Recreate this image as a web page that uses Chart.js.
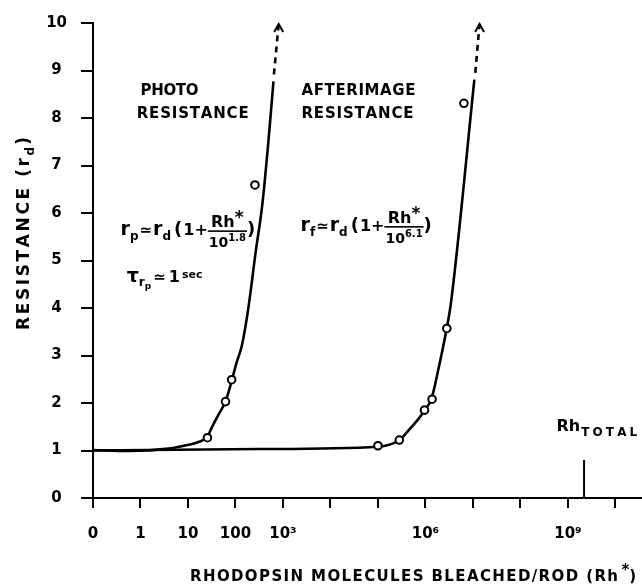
<!DOCTYPE html>
<html>
<head>
<meta charset="utf-8">
<script src="https://cdn.jsdelivr.net/npm/chart.js@4.4.1/dist/chart.umd.min.js"></script>
<style>
  html, body { margin: 0; padding: 0; background: #fff; }
</style>
</head>
<body>
<canvas id="rhoChart" width="642" height="588"></canvas>
<script>
// x is log10(Rh*) — the "0" molecules tick sits one decade left of 1
const xTickValues = [-1, 0, 1, 2, 3, 6, 9];
const xTickLabels = ["0", "1", "10", "100", "10³", "10⁶", "10⁹"];
const yTickLabels = ["0", "1", "2", "3", "4", "5", "6", "7", "8", "9", "10"];

// photo resistance
const photoCurveX = [-1, -0.25, 0.59, 1.01, 1.22, 1.41, 1.49, 1.64, 1.79, 1.92, 2.02, 2.13, 2.21, 2.29, 2.42, 2.57, 2.69, 2.80];
const photoCurveY = [1.01, 0.99, 1.04, 1.12, 1.18, 1.29, 1.46, 1.75, 2.03, 2.46, 2.84, 3.19, 3.61, 4.13, 5.14, 6.22, 7.47, 8.77];
const photoDashX = [2.81, 2.91];
const photoDashY = [8.92, 9.98];
const photoPointsX = [1.41, 1.79, 1.92, 2.41];
const photoPointsY = [1.27, 2.03, 2.49, 6.59];

// afterimage resistance
const afterCurveX = [-1, 2.5, 5.0, 5.45, 5.64, 5.85, 5.98, 6.13, 6.27, 6.45, 6.54, 7.03];
const afterCurveY = [1.0, 1.03, 1.08, 1.22, 1.42, 1.66, 1.84, 2.10, 2.70, 3.58, 4.13, 8.81];
const afterDashX = [7.05, 7.14];
const afterDashY = [8.95, 9.98];
const afterPointsX = [5.0, 5.45, 5.98, 6.14, 6.45, 6.81];
const afterPointsY = [1.10, 1.22, 1.85, 2.08, 3.57, 8.31];

// total rhodopsin marker
const rhTotalX = [9.34, 9.34];
const rhTotalY = [0, 0.8];

const FONT = "DejaVu Sans";
const toXY = (xs, ys) => xs.map((x, i) => ({ x: x, y: ys[i] }));

function pointSet(xs, ys) {
  return {
    data: toXY(xs, ys),
    showLine: false,
    pointRadius: 3.8,
    pointBorderWidth: 2,
    pointBackgroundColor: "#fff",
    pointBorderColor: "#000"
  };
}
function lineSet(xs, ys, dash) {
  return {
    data: toXY(xs, ys),
    showLine: true,
    borderColor: "#000",
    borderWidth: 2.6,
    borderDash: dash || [],
    pointRadius: 0,
    cubicInterpolationMode: "monotone",
    clip: false
  };
}

// draw text char by char, spreading it to a given width
function spaced(ctx, text, x, y, font, width) {
  ctx.font = font;
  let w0 = 0;
  for (const c of text) w0 += ctx.measureText(c).width;
  const gap = text.length > 1 ? (width - w0) / (text.length - 1) : 0;
  for (const c of text) {
    ctx.fillText(c, x, y);
    x += ctx.measureText(c).width + gap;
  }
  return x;
}
function run(ctx, x, y, parts) {
  parts.forEach(p => {
    ctx.font = p.f;
    ctx.fillText(p.t, x, y + (p.dy || 0));
    x += ctx.measureText(p.t).width + (p.gap || 0);
  });
  return x;
}
function fraction(ctx, x, base, denExp) {
  ctx.font = "bold 16px " + FONT;
  const wn = ctx.measureText("Rh").width + 9;
  ctx.font = "bold 14px " + FONT;
  const wd = ctx.measureText("10").width;
  ctx.font = "bold 10px " + FONT;
  const we = ctx.measureText(denExp).width;
  const w = Math.max(wn, wd + we) + 2;
  run(ctx, x + (w - wn) / 2, base - 8, [
    { t: "Rh", f: "bold 16px " + FONT },
    { t: "*", f: "bold 17px " + FONT, dy: -4 }
  ]);
  run(ctx, x + (w - wd - we) / 2, base + 12, [
    { t: "10", f: "bold 14px " + FONT },
    { t: denExp, f: "bold 10px " + FONT, dy: -6 }
  ]);
  ctx.fillRect(x, base - 5, w, 1.6);
  return x + w;
}
function formula(ctx, x, base, sub, denExp) {
  const big = "bold 19px " + FONT, small = "bold 12px " + FONT;
  x = run(ctx, x, base, [
    { t: "r", f: big },
    { t: sub, f: small, dy: 5, gap: 1 },
    { t: "≃", f: "bold 15px " + FONT, gap: 1 },
    { t: "r", f: big },
    { t: "d", f: small, dy: 5, gap: 3 },
    { t: "(", f: "bold 18px " + FONT, gap: 1 },
    { t: "1", f: "bold 16px " + FONT },
    { t: "+", f: "bold 16px " + FONT }
  ]);
  x = fraction(ctx, x, base, denExp);
  run(ctx, x, base, [{ t: ")", f: "bold 18px " + FONT }]);
}
function chevron(ctx, px, py) {
  ctx.beginPath();
  ctx.moveTo(px - 4.5, py + 8);
  ctx.lineTo(px, py);
  ctx.lineTo(px + 4.5, py + 8);
  ctx.stroke();
}

const textPlugin = {
  id: "figureText",
  afterDraw(chart) {
    const { ctx, scales: { x, y } } = chart;
    const X = v => x.getPixelForValue(v), Y = v => y.getPixelForValue(v);
    ctx.save();
    ctx.fillStyle = "#000";
    ctx.strokeStyle = "#000";
    ctx.lineWidth = 2;
    ctx.textBaseline = "alphabetic";
    ctx.textAlign = "left";

    const lab = "bold 15px " + FONT;
    spaced(ctx, "PHOTO", X(0), Y(8.48), lab, 58);
    spaced(ctx, "RESISTANCE", X(-0.08), Y(8.0), lab, 112);
    spaced(ctx, "AFTERIMAGE", X(3.39), Y(8.48), lab, 114);
    spaced(ctx, "RESISTANCE", X(3.39), Y(8.0), lab, 112);

    formula(ctx, X(-0.42), Y(5.53), "p", "1.8");
    formula(ctx, X(3.37), Y(5.62), "f", "6.1");

    run(ctx, X(-0.29), Y(4.55), [
      { t: "τ", f: "bold 19px " + FONT },
      { t: "r", f: "bold 12px " + FONT, dy: 4 },
      { t: "p", f: "bold 9px " + FONT, dy: 7, gap: 2 },
      { t: "≃", f: "bold 15px " + FONT, gap: 3 },
      { t: "1", f: "bold 16px " + FONT, gap: 2 },
      { t: "sec", f: "bold 11px " + FONT, dy: -4 }
    ]);

    const rx = run(ctx, X(8.76), Y(1.42), [{ t: "Rh", f: "bold 16px " + FONT, gap: 1 }]);
    spaced(ctx, "TOTAL", rx, Y(1.42) + 5, "bold 12px " + FONT, 56);

    chevron(ctx, X(photoDashX[1]), Y(photoDashY[1]));
    chevron(ctx, X(afterDashX[1]), Y(afterDashY[1]));

    // x axis title
    const tx = spaced(ctx, "RHODOPSIN MOLECULES BLEACHED/ROD (Rh", 190, 581, "bold 15px " + FONT, 428);
    run(ctx, tx + 2, 581, [
      { t: "*", f: "bold 15px " + FONT, dy: -6 },
      { t: ")", f: "bold 15px " + FONT }
    ]);

    // y axis title
    ctx.translate(29, 330);
    ctx.rotate(-Math.PI / 2);
    const ty = spaced(ctx, "RESISTANCE (r", 0, 0, "bold 17px " + FONT, 172);
    run(ctx, ty, 0, [
      { t: "d", f: "bold 12px " + FONT, dy: 5, gap: 2 },
      { t: ")", f: "bold 17px " + FONT }
    ]);
    ctx.restore();
  }
};

new Chart(document.getElementById("rhoChart"), {
  type: "scatter",
  data: {
    datasets: [
      pointSet(photoPointsX, photoPointsY),
      pointSet(afterPointsX, afterPointsY),
      lineSet(photoCurveX, photoCurveY),
      lineSet(photoDashX, photoDashY, [6, 5]),
      lineSet(afterCurveX, afterCurveY),
      lineSet(afterDashX, afterDashY, [6, 5]),
      { data: toXY(rhTotalX, rhTotalY), showLine: true, borderColor: "#000", borderWidth: 2, pointRadius: 0 }
    ]
  },
  options: {
    responsive: false,
    animation: false,
    layout: { autoPadding: false, padding: { top: 19, right: 0, left: 0, bottom: 0 } },
    plugins: { legend: { display: false }, tooltip: { enabled: false } },
    scales: {
      x: {
        type: "linear",
        min: -1,
        max: 10.56,
        afterBuildTicks: s => { s.ticks = [-1, 0, 1, 2, 3, 4, 5, 6, 7, 8, 9, 10].map(v => ({ value: v })); },
        afterFit: s => { s.height = 90; s.paddingLeft = 0; s.paddingRight = 0; },
        ticks: {
          autoSkip: false,
          maxRotation: 0,
          padding: 17,
          color: "#000",
          font: { family: FONT, weight: "bold", size: 15 },
          callback: v => { const i = xTickValues.indexOf(v); return i < 0 ? "" : xTickLabels[i]; }
        },
        grid: { drawOnChartArea: false, tickLength: 10, color: "#000", lineWidth: 2 },
        border: { color: "#000", width: 2 }
      },
      y: {
        min: 0,
        max: 10,
        afterFit: s => { s.width = 93; },
        ticks: {
          stepSize: 1,
          crossAlign: "center",
          padding: 14,
          color: "#000",
          font: { family: FONT, weight: "bold", size: 15 },
          callback: v => yTickLabels[v]
        },
        grid: { drawOnChartArea: false, tickLength: 12, color: "#000", lineWidth: 2 },
        border: { color: "#000", width: 2 }
      }
    }
  },
  plugins: [textPlugin]
});
</script>
</body>
</html>
